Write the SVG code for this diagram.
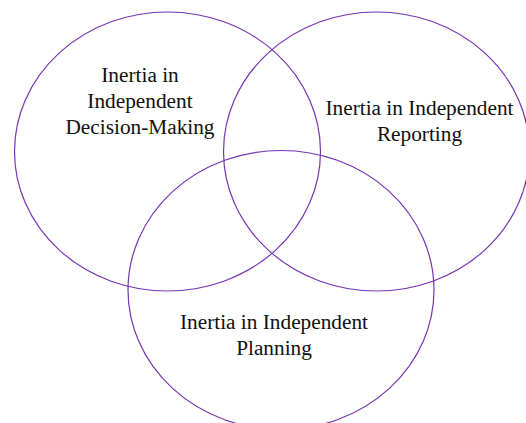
<svg xmlns="http://www.w3.org/2000/svg" width="526" height="423" viewBox="0 0 526 423">
  <style>
    .set { fill: none; stroke: #7535b3; stroke-width: 1.2; }
    .label { font-family: "Liberation Serif", "Times New Roman", serif; font-size: 21.3px; fill: #111; text-anchor: middle; }
  </style>
  <rect width="526" height="423" fill="#ffffff"/>
  <g id="decision-making">
    <ellipse class="set" cx="167.5" cy="151.5" rx="153" ry="139.5"/>
    <text class="label" x="140" y="82">Inertia in</text>
    <text class="label" x="140" y="108">Independent</text>
    <text class="label" x="140" y="133.5">Decision-Making</text>
  </g>
  <g id="reporting">
    <ellipse class="set" cx="376.5" cy="151.5" rx="153" ry="139.5"/>
    <text class="label" x="419.5" y="114.5">Inertia in Independent</text>
    <text class="label" x="419.5" y="140.5">Reporting</text>
  </g>
  <g id="planning">
    <ellipse class="set" cx="281" cy="290" rx="153" ry="139.5"/>
    <text class="label" x="274" y="329">Inertia in Independent</text>
    <text class="label" x="274" y="354.5">Planning</text>
  </g>
  <g id="connectors"/>
</svg>
